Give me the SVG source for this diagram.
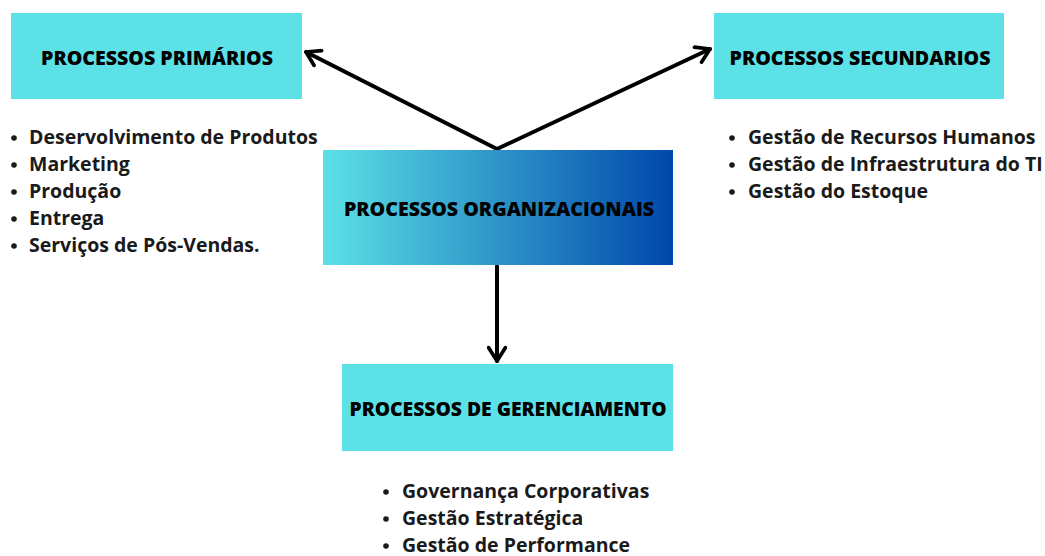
<svg xmlns="http://www.w3.org/2000/svg" width="1045" height="556" viewBox="0 0 1045 556">
<style>
.box{fill:#5ce1e6}
.title{font-family:"Open Sans","Liberation Sans",sans-serif;font-weight:800;font-size:19.6px;fill:#000;text-anchor:middle;dominant-baseline:central}
.title.sm{font-size:19.3px}
.item{font-family:"Open Sans","Liberation Sans",sans-serif;font-weight:700;font-size:19.5px;fill:#1a1a1a}
.dot{fill:#1a1a1a}
.conn{stroke:#000;stroke-width:4;fill:none;stroke-linecap:round}
</style>
<defs>
<linearGradient id="g" x1="0" x2="1" y1="0" y2="0">
<stop offset="0" stop-color="#5ce1e6"/>
<stop offset="1" stop-color="#0047ab"/>
</linearGradient>
<marker id="ah" viewBox="0 0 12 12" refX="10" refY="6" markerWidth="5" markerHeight="5" orient="auto" markerUnits="strokeWidth">
<path d="M2,1 L10,6 L2,11" fill="none" stroke="#000" stroke-width="2.2" stroke-linecap="round" stroke-linejoin="round"/>
</marker>
</defs>
<rect width="1045" height="556" fill="#fff"/>
<g id="connectors">
<path class="conn" d="M497,149 L306,52" marker-end="url(#ah)"/>
<path class="conn" d="M497,149 L710,49" marker-end="url(#ah)"/>
<path class="conn" d="M497,266 L497,361" marker-end="url(#ah)"/>
</g>
<g id="primarios">
<rect class="box" x="11" y="13" width="291" height="86"/>
<text class="title" x="157" y="57">PROCESSOS PRIMÁRIOS</text>
<circle class="dot" cx="14" cy="138" r="2.8"/>
<circle class="dot" cx="14" cy="165" r="2.8"/>
<circle class="dot" cx="14" cy="192" r="2.8"/>
<circle class="dot" cx="14" cy="219" r="2.8"/>
<circle class="dot" cx="14" cy="246" r="2.8"/>
<text class="item" x="29" y="144">Deservolvimento de Produtos</text>
<text class="item" x="29" y="171">Marketing</text>
<text class="item" x="29" y="198">Produção</text>
<text class="item" x="29" y="225">Entrega</text>
<text class="item" x="29" y="252">Serviços de Pós-Vendas.</text>
</g>
<g id="secundarios">
<rect class="box" x="714" y="13" width="290" height="86"/>
<text class="title" x="860" y="57">PROCESSOS SECUNDARIOS</text>
<circle class="dot" cx="732" cy="138" r="2.8"/>
<circle class="dot" cx="732" cy="165" r="2.8"/>
<circle class="dot" cx="732" cy="192" r="2.8"/>
<text class="item" x="748" y="144">Gestão de Recursos Humanos</text>
<text class="item" x="748" y="171">Gestão de Infraestrutura do TI</text>
<text class="item" x="748" y="198">Gestão do Estoque</text>
</g>
<g id="organizacionais">
<rect x="323" y="150" width="350" height="115" fill="url(#g)"/>
<text class="title" x="499" y="208">PROCESSOS ORGANIZACIONAIS</text>
</g>
<g id="gerenciamento">
<rect class="box" x="342" y="364" width="331" height="87"/>
<text class="title sm" x="508" y="408">PROCESSOS DE GERENCIAMENTO</text>
<circle class="dot" cx="386" cy="492" r="2.8"/>
<circle class="dot" cx="386" cy="519" r="2.8"/>
<circle class="dot" cx="386" cy="546" r="2.8"/>
<text class="item" x="402" y="498">Governança Corporativas</text>
<text class="item" x="402" y="525">Gestão Estratégica</text>
<text class="item" x="402" y="552">Gestão de Performance</text>
</g>
</svg>
